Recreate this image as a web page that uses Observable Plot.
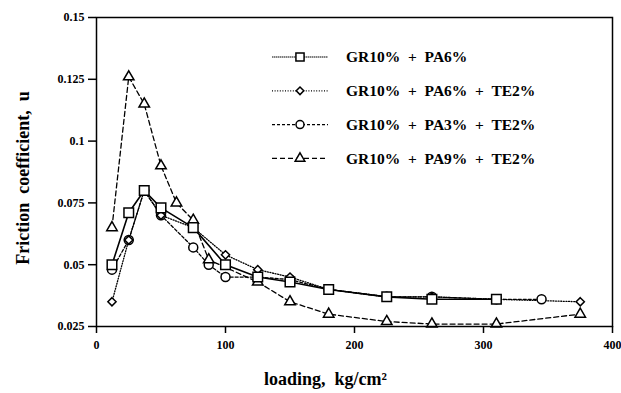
<!DOCTYPE html>
<html><head><meta charset="utf-8">
<script src="https://cdn.jsdelivr.net/npm/d3@7"></script>
<script src="https://cdn.jsdelivr.net/npm/@observablehq/plot@0.6"></script>
<style>
body{margin:0;background:#fff}
#chart svg{font-family:"Liberation Serif","DejaVu Serif",serif;font-weight:bold;}
#chart [aria-label="y-axis tick label"] text,#chart [aria-label="x-axis tick label"] text{font-size:12px}
</style>
</head><body><div id="chart"></div>
<script>
// Data
const loadSq = [12, 25, 37, 50, 75, 100, 125, 150, 180, 225, 260, 310];
const muSq   = [0.050, 0.071, 0.080, 0.073, 0.065, 0.050, 0.045, 0.043, 0.040, 0.037, 0.036, 0.036];

const loadDi = [12, 25, 37, 50, 75, 100, 125, 150, 180, 225, 260, 310, 375];
const muDi   = [0.035, 0.060, 0.080, 0.070, 0.065, 0.054, 0.048, 0.045, 0.040, 0.037, 0.037, 0.036, 0.035];

const loadCi = [12, 25, 37, 50, 75, 87, 100, 125, 150, 180, 225, 260, 310, 345];
const muCi   = [0.048, 0.060, 0.080, 0.070, 0.057, 0.050, 0.045, 0.045, 0.044, 0.040, 0.037, 0.037, 0.036, 0.036];

const loadTr = [12, 25, 37, 50, 62, 75, 87, 125, 150, 180, 225, 260, 310, 375];
const muTr   = [0.065, 0.126, 0.115, 0.090, 0.075, 0.068, 0.052, 0.043, 0.035, 0.030, 0.027, 0.026, 0.026, 0.030];

const seriesNames = ["GR10%  +  PA6%", "GR10%  +  PA6%  +  TE2%", "GR10%  +  PA3%  +  TE2%", "GR10%  +  PA9%  +  TE2%"];
const xTicks = [0, 100, 200, 300, 400];
const yTicks = [0.025, 0.05, 0.075, 0.1, 0.125, 0.15];
const xLabel = "loading,  kg/cm²";
const yLabel = "Friction  coefficient,  u";

const series = [
  {name: seriesNames[0], load: loadSq, mu: muSq, symbol: "square",   d3sym: d3.symbolSquare,   r: 5.4, lr: 4.6, dash: null,    sw: 1.6},
  {name: seriesNames[1], load: loadDi, mu: muDi, symbol: "diamond2", d3sym: d3.symbolDiamond2, r: 3.7, lr: 3.4, dash: "1,1.6", sw: 1.3},
  {name: seriesNames[2], load: loadCi, mu: muCi, symbol: "circle",   d3sym: d3.symbolCircle,   r: 4.5, lr: 4.0, dash: "3,2",   sw: 1.3},
  {name: seriesNames[3], load: loadTr, mu: muTr, symbol: "triangle", d3sym: d3.symbolTriangle, r: 3.9, lr: 3.6, dash: "5,3",   sw: 1.3}
];
const tables = series.map(s => s.load.map((x, i) => ({x, y: s.mu[i]})));

const lineMarks = series.map((s, i) => Plot.line(tables[i], {x: "x", y: "y", stroke: "black", strokeWidth: s.sw, strokeDasharray: s.dash}));
const dotOrder = [2, 1, 3, 0];
const dotMarks = dotOrder.map(i => Plot.dot(tables[i], {x: "x", y: "y", symbol: () => series[i].symbol, r: series[i].r, fill: "white", stroke: "black", strokeWidth: 1.5}));

const svg = Plot.plot({
  width: 621, height: 393,
  marginTop: 17, marginBottom: 67, marginLeft: 96, marginRight: 9,
  x: {domain: [0, 400]},
  y: {domain: [0.025, 0.15]},
  symbol: {type: "identity"},
  marks: [
    Plot.axisY({ticks: yTicks, tickFormat: d => String(d), tickSize: 8, tickPadding: 4, strokeWidth: 1.5, label: null}),
    Plot.axisX({ticks: xTicks, tickFormat: d => String(d), tickSize: 7, tickPadding: 7, strokeWidth: 1.5, label: null}),
    Plot.text([xLabel], {text: d => d, frameAnchor: "bottom", textAnchor: "middle", dx: -29, dy: 58, fontSize: 18, fontWeight: "bold"}),
    Plot.text([yLabel], {text: d => d, frameAnchor: "left", textAnchor: "middle", rotate: -90, dx: -73, dy: 6, fontSize: 18, fontWeight: "bold"}),
    ...lineMarks,
    ...dotMarks,
    Plot.frame({stroke: "black", strokeWidth: 1.5})
  ]
});
document.getElementById("chart").appendChild(svg);

// Legend inside the plot area
const lg = d3.select(svg).append("g").attr("class", "legend").attr("text-anchor", "start");
series.forEach((s, i) => {
  const y = 57 + i * 33.8;
  lg.append("line").attr("x1", 272).attr("x2", 328).attr("y1", y).attr("y2", y)
    .attr("stroke", "black").attr("stroke-width", 1.2).attr("stroke-dasharray", s.dash || "1.5,0.5");
  lg.append("path").attr("d", d3.symbol(s.d3sym, s.lr * s.lr * Math.PI)())
    .attr("transform", `translate(300,${y})`).attr("fill", "white").attr("stroke", "black").attr("stroke-width", 1.5);
  lg.append("text").attr("x", 346).attr("y", y).attr("dy", "0.35em")
    .attr("font-size", 15.5).attr("font-weight", "bold").style("white-space", "pre").text(s.name);
});
</script>
</body></html>
